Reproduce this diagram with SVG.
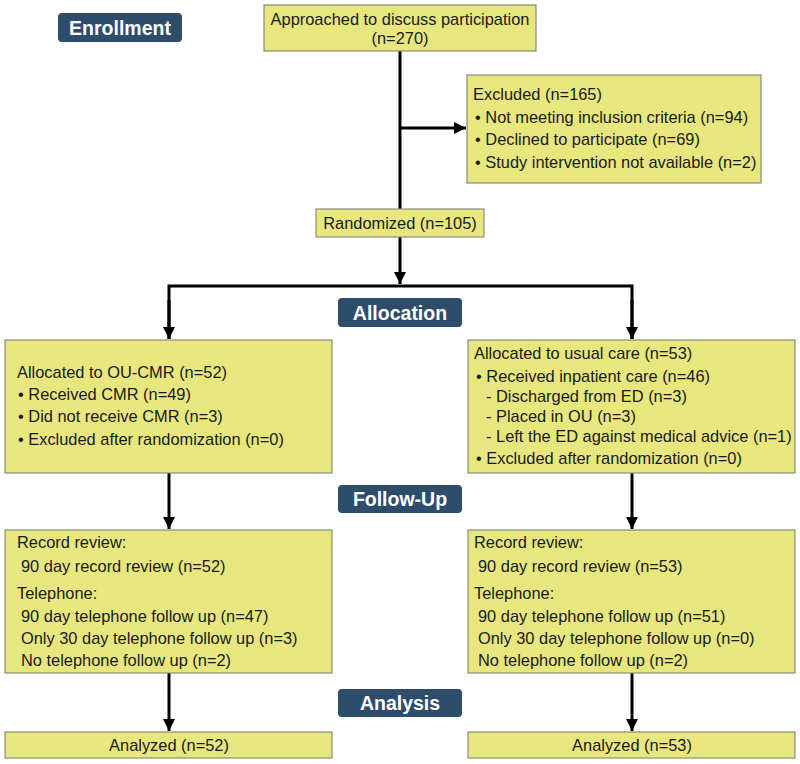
<svg xmlns="http://www.w3.org/2000/svg" width="800" height="764" viewBox="0 0 800 764">
<style>
.box{fill:#e7e77e;stroke:#8c8c7c;stroke-width:1.2}
.lab{fill:#2e4c6c}
.lt{font-family:"Liberation Sans",Arial,sans-serif;font-weight:bold;font-size:19.5px;fill:#fff;text-anchor:middle}
.t{font-family:"Liberation Sans",Arial,sans-serif;font-size:16.4px;fill:#1a1a1a}
.c{text-anchor:middle}
.ln{fill:none;stroke:#000;stroke-width:3}
</style>
<defs>
<marker id="ah" markerUnits="userSpaceOnUse" markerWidth="13" markerHeight="13" refX="12" refY="6.5" orient="auto">
<path d="M0,0.5 L12,6.5 L0,12.5 z" fill="#000"/>
</marker>
</defs>
<rect width="800" height="764" fill="#fff"/>

<g id="connectors">
<line class="ln" x1="400" y1="51" x2="400" y2="209"/>
<line class="ln" x1="400" y1="128" x2="466" y2="128" marker-end="url(#ah)"/>
<line class="ln" x1="400" y1="237" x2="400" y2="284" marker-end="url(#ah)"/>
<polyline class="ln" points="169,339 169,286 632,286 632,339"/>
<line class="ln" x1="169" y1="300" x2="169" y2="339" marker-end="url(#ah)"/>
<line class="ln" x1="632" y1="300" x2="632" y2="339" marker-end="url(#ah)"/>
<line class="ln" x1="169" y1="473" x2="169" y2="529" marker-end="url(#ah)"/>
<line class="ln" x1="632" y1="473" x2="632" y2="529" marker-end="url(#ah)"/>
<line class="ln" x1="169" y1="673" x2="169" y2="731" marker-end="url(#ah)"/>
<line class="ln" x1="632" y1="673" x2="632" y2="731" marker-end="url(#ah)"/>
</g>

<g id="label-enrollment">
<rect class="lab" x="58" y="13" width="124" height="29" rx="4"/>
<text class="lt" x="120" y="35">Enrollment</text>
</g>
<g id="label-allocation">
<rect class="lab" x="338" y="298" width="124" height="29" rx="4"/>
<text class="lt" x="400" y="320">Allocation</text>
</g>
<g id="label-followup">
<rect class="lab" x="338" y="485" width="124" height="28" rx="4"/>
<text class="lt" x="400" y="506">Follow-Up</text>
</g>
<g id="label-analysis">
<rect class="lab" x="338" y="689" width="124" height="28" rx="4"/>
<text class="lt" x="400" y="710">Analysis</text>
</g>

<g id="approached">
<rect class="box" x="264" y="5" width="272" height="46"/>
<text class="t c" x="400" y="25">Approached to discuss participation</text>
<text class="t c" x="400" y="44">(n=270)</text>
</g>

<g id="excluded">
<rect class="box" x="467" y="75" width="294" height="108"/>
<text class="t" x="473" y="100">Excluded (n=165)</text>
<text class="t" x="475" y="123">• Not meeting inclusion criteria (n=94)</text>
<text class="t" x="475" y="145">• Declined to participate (n=69)</text>
<text class="t" x="475" y="168">• Study intervention not available (n=2)</text>
</g>

<g id="randomized">
<rect class="box" x="316" y="209" width="168" height="28"/>
<text class="t c" x="400" y="229">Randomized (n=105)</text>
</g>

<g id="alloc-left">
<rect class="box" x="5" y="340" width="327" height="133"/>
<text class="t" x="17" y="378">Allocated to OU-CMR (n=52)</text>
<text class="t" x="18" y="400">• Received CMR (n=49)</text>
<text class="t" x="18" y="422">• Did not receive CMR (n=3)</text>
<text class="t" x="18" y="445">• Excluded after randomization (n=0)</text>
</g>

<g id="alloc-right">
<rect class="box" x="468" y="340" width="327" height="133"/>
<text class="t" x="474" y="359">Allocated to usual care (n=53)</text>
<text class="t" x="476" y="382">• Received inpatient care (n=46)</text>
<text class="t" x="486" y="402">- Discharged from ED (n=3)</text>
<text class="t" x="486" y="422">- Placed in OU (n=3)</text>
<text class="t" x="486" y="442">- Left the ED against medical advice (n=1)</text>
<text class="t" x="476" y="464">• Excluded after randomization (n=0)</text>
</g>

<g id="followup-left">
<rect class="box" x="5" y="530" width="327" height="143"/>
<text class="t" x="17" y="548">Record review:</text>
<text class="t" x="21" y="572">90 day record review (n=52)</text>
<text class="t" x="17" y="599">Telephone:</text>
<text class="t" x="21" y="622">90 day telephone follow up (n=47)</text>
<text class="t" x="21" y="644">Only 30 day telephone follow up (n=3)</text>
<text class="t" x="21" y="666">No telephone follow up (n=2)</text>
</g>

<g id="followup-right">
<rect class="box" x="468" y="530" width="327" height="143"/>
<text class="t" x="474" y="548">Record review:</text>
<text class="t" x="478" y="572">90 day record review (n=53)</text>
<text class="t" x="474" y="599">Telephone:</text>
<text class="t" x="478" y="622">90 day telephone follow up (n=51)</text>
<text class="t" x="478" y="644">Only 30 day telephone follow up (n=0)</text>
<text class="t" x="478" y="666">No telephone follow up (n=2)</text>
</g>

<g id="analyzed-left">
<rect class="box" x="5" y="732" width="327" height="26"/>
<text class="t c" x="169" y="751">Analyzed (n=52)</text>
</g>

<g id="analyzed-right">
<rect class="box" x="468" y="732" width="327" height="26"/>
<text class="t c" x="632" y="751">Analyzed (n=53)</text>
</g>
</svg>
